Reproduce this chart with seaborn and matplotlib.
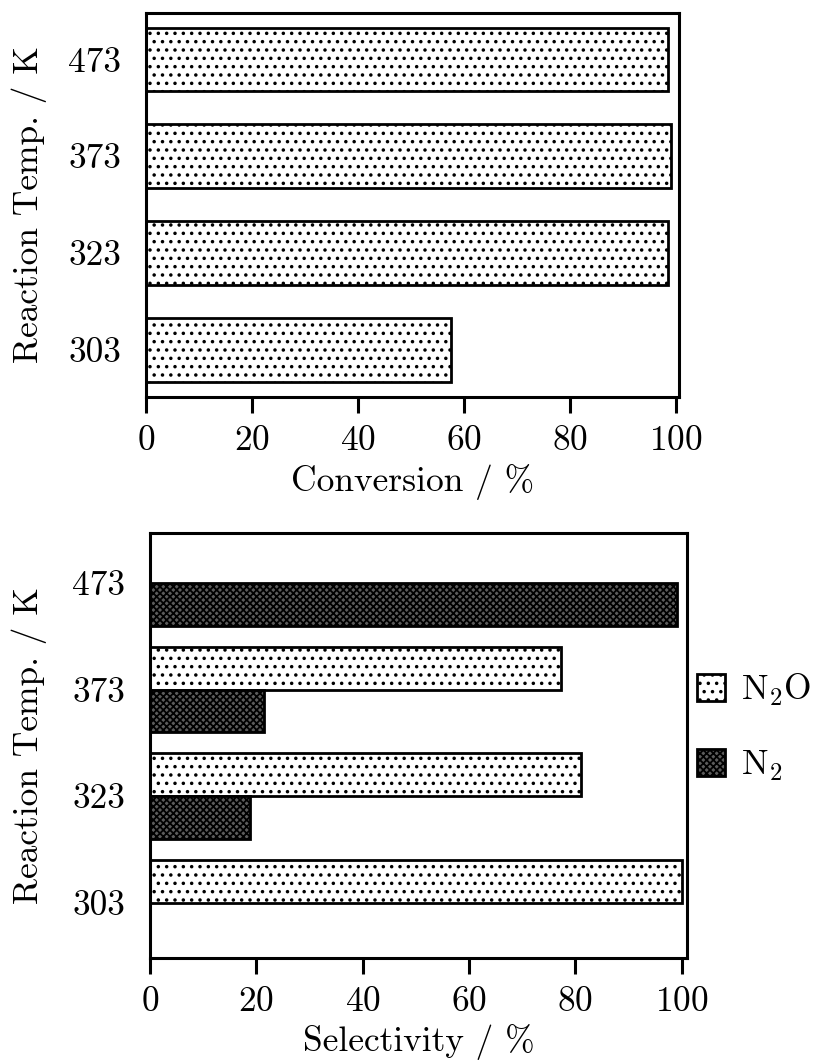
import matplotlib
matplotlib.use("Agg")
import matplotlib.pyplot as plt
import pandas as pd
import seaborn as sns
from matplotlib.patches import Patch

# Reaction temperatures (K), listed top to bottom
temps = ["473", "373", "323", "303"]

# Conversion (%) at each temperature
conversion = [98.6, 99.0, 98.6, 57.5]

# Selectivity (%) by product
n2o_temps = ["373", "323", "303"]
n2o_selectivity = [77.3, 81.0, 100.0]
n2_temps = ["473", "373", "323"]
n2_selectivity = [99.2, 21.5, 18.8]

products = ["N2O", "N2"]
product_labels = [r"$\mathrm{N_2O}$", r"$\mathrm{N_2}$"]
xticks = [0, 20, 40, 60, 80, 100]

sns.set_style("ticks")
plt.rcParams.update({
    "font.family": ["cmr10", "DejaVu Serif"],
    "mathtext.fontset": "cm",
    "axes.formatter.use_mathtext": True,
    "font.size": 25.5,
    "axes.linewidth": 2.2,
    "axes.edgecolor": "black",
    "xtick.major.width": 2.2,
    "xtick.major.size": 11.5,
    "xtick.direction": "out",
    "xtick.color": "black",
    "ytick.color": "black",
    "text.color": "black",
    "axes.labelcolor": "black",
    "hatch.linewidth": 1.3,
})

W, H = 825, 1063
fig = plt.figure(figsize=(W / 100, H / 100), dpi=100)

dot_hatch = ".."
dark_hatch = "xxxxx"
dark_face = "#5c5c5c"

# ---- Conversion panel ----
ax1 = fig.add_axes([146 / W, 1 - 397 / H, 533 / W, 384 / H])
df1 = pd.DataFrame({"temp": temps, "value": conversion})
sns.barplot(data=df1, y="temp", x="value", order=temps, orient="h",
            width=0.66, color="white", saturation=1, edgecolor="black",
            linewidth=2.0, hatch=dot_hatch, ax=ax1)
ax1.set_xlim(0, 100.6)
ax1.set_ylim(3.49, -0.48)
ax1.set_xticks(xticks)
ax1.set_xlabel("Conversion / %")
ax1.xaxis.set_label_coords(0.5, (397 - 464) / 384)
ax1.set_ylabel("Reaction Temp. / K")
ax1.yaxis.set_label_coords((47 - 146) / 533, 0.5)
ax1.tick_params(axis="y", length=0, pad=18)
ax1.tick_params(axis="x", pad=9)

# ---- Selectivity panel ----
ax2 = fig.add_axes([150 / W, 1 - 958 / H, 537 / W, 425 / H])
df2 = pd.concat([
    pd.DataFrame({"temp": n2o_temps, "value": n2o_selectivity, "product": "N2O"}),
    pd.DataFrame({"temp": n2_temps, "value": n2_selectivity, "product": "N2"}),
], ignore_index=True)
sns.barplot(data=df2, y="temp", x="value", hue="product", order=temps,
            hue_order=products, orient="h", width=0.8, dodge=True,
            palette=["white", dark_face], saturation=1, edgecolor="black",
            linewidth=2.0, legend=False, ax=ax2)
for container, hatch in zip(ax2.containers, [dot_hatch, dark_hatch]):
    for bar in container:
        bar.set_hatch(hatch)
ax2.set_xlim(0, 101)
ax2.set_ylim(3.52, -0.47)
ax2.set_xticks(xticks)
ax2.set_xlabel("Selectivity / %")
ax2.xaxis.set_label_coords(0.5, (958 - 1024) / 425)
ax2.set_ylabel("Reaction Temp. / K")
ax2.yaxis.set_label_coords((47 - 150) / 537, 0.5)
ax2.tick_params(axis="y", length=0, pad=18)
ax2.tick_params(axis="x", pad=9)

handles = [
    Patch(facecolor="white", edgecolor="black", hatch=dot_hatch, linewidth=2.0),
    Patch(facecolor=dark_face, edgecolor="black", hatch=dark_hatch, linewidth=2.0),
]
fig.legend(handles=handles, labels=product_labels, loc="upper left",
           bbox_to_anchor=(697 / W, 1 - 672 / H), frameon=False,
           handlelength=0.8, handleheight=0.8, handletextpad=0.45,
           labelspacing=1.15, borderaxespad=0, borderpad=0)

fig.savefig("out.png", dpi=100)
